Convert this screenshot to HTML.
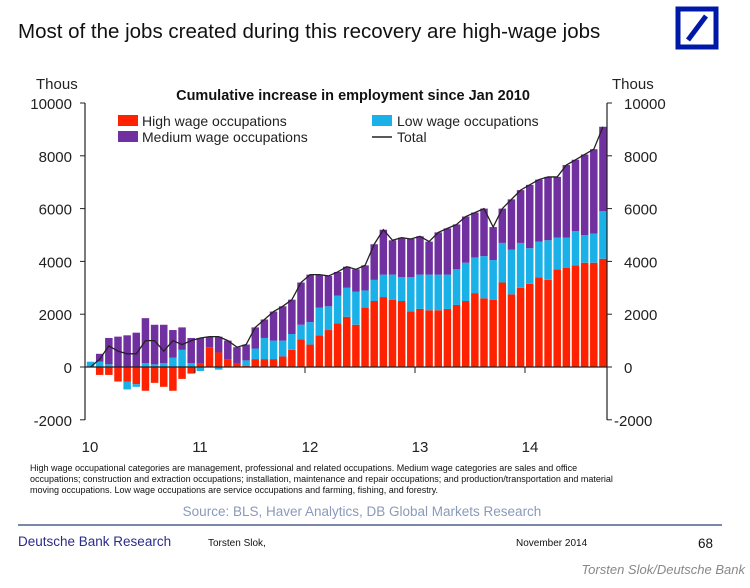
<!DOCTYPE html>
<html><head><meta charset="utf-8"><style>
body{margin:0;background:#fff;width:750px;height:583px;overflow:hidden;font-family:"Liberation Sans",sans-serif;}
</style></head><body>
<svg id="s" width="750" height="583" xmlns="http://www.w3.org/2000/svg" font-family="Liberation Sans, sans-serif">
<text x="18" y="38" font-size="20.5" fill="#111">Most of the jobs created during this recovery are high-wage jobs</text>
<rect x="678" y="9" width="38" height="38" fill="none" stroke="#0018a8" stroke-width="5"/>
<line x1="688" y1="40" x2="706" y2="16" stroke="#0018a8" stroke-width="5"/>
<text x="353" y="100" font-size="14.5" font-weight="bold" text-anchor="middle" fill="#111">Cumulative increase in employment since Jan 2010</text>
<text x="36" y="89" font-size="15" fill="#222">Thous</text>
<text x="612" y="89" font-size="15" fill="#222">Thous</text>
<rect x="118" y="115" width="20" height="11" fill="#ff2200"/><text x="142" y="126" font-size="14" fill="#222">High wage occupations</text>
<rect x="118" y="131" width="20" height="11" fill="#7030a0"/><text x="142" y="142" font-size="14" fill="#222">Medium wage occupations</text>
<rect x="372" y="115" width="20" height="11" fill="#1ab0e8"/><text x="397" y="126" font-size="14" fill="#222">Low wage occupations</text>
<line x1="372" y1="137" x2="392" y2="137" stroke="#222" stroke-width="1.5"/><text x="397" y="142" font-size="14" fill="#222">Total</text>
<g id="g"></g>
<g font-size="9" fill="#111">
<text x="30" y="471">High wage occupational categories are management, professional and related occupations. Medium wage categories are sales and office</text>
<text x="30" y="482">occupations; construction and extraction occupations; installation, maintenance and repair occupations; and production/transportation and material</text>
<text x="30" y="493">moving occupations. Low wage occupations are service occupations and farming, fishing, and forestry.</text>
</g>
<text x="362" y="516" font-size="13.5" text-anchor="middle" fill="#8a9ab8">Source: BLS, Haver Analytics, DB Global Markets Research</text>
<line x1="18" y1="525" x2="722" y2="525" stroke="#7a88a8" stroke-width="2"/>
<text x="18" y="546" font-size="13.5" fill="#2b2b8c">Deutsche Bank Research</text>
<text x="208" y="546" font-size="10" fill="#111">Torsten Slok,</text>
<text x="516" y="546" font-size="10" fill="#111">November 2014</text>
<text x="698" y="548" font-size="13.5" fill="#111">68</text>
<text x="745" y="574" font-size="13" font-style="italic" text-anchor="end" fill="#888">Torsten Slok/Deutsche Bank</text>
</svg>
<script>
var T=[0.1,0.5,1.1,1.15,1.2,1.3,1.85,1.6,1.6,1.4,1.5,1.1,1.1,1.15,1.15,1.0,0.75,0.85,1.5,1.8,2.1,2.3,2.55,3.2,3.5,3.5,3.45,3.6,3.8,3.7,3.85,4.65,5.2,4.8,4.9,4.85,4.95,4.75,5.1,5.25,5.4,5.7,5.85,6.0,5.3,6.0,6.35,6.7,6.9,7.1,7.2,7.2,7.65,7.85,8.05,8.25,9.1];
var H=[0,-0.3,-0.3,-0.55,-0.55,-0.65,-0.9,-0.6,-0.75,-0.9,-0.45,-0.25,0.15,0.75,0.55,0.3,0.15,0.05,0.3,0.3,0.3,0.4,0.65,1.05,0.85,1.2,1.4,1.65,1.9,1.6,2.25,2.5,2.65,2.55,2.5,2.1,2.2,2.15,2.15,2.2,2.35,2.5,2.8,2.6,2.55,3.2,2.75,3.0,3.15,3.4,3.3,3.7,3.75,3.85,3.95,3.95,4.1];
var L=[0.2,0.2,0.1,0,-0.3,-0.1,0.15,0.1,0.15,0.35,0.65,0.15,-0.15,0,-0.1,0.05,0.05,0.25,0.7,1.1,1.0,1.0,1.25,1.6,1.7,2.25,2.3,2.7,3.0,2.85,2.9,3.3,3.5,3.5,3.4,3.4,3.5,3.5,3.5,3.5,3.7,3.95,4.15,4.2,4.05,4.7,4.45,4.7,4.5,4.75,4.8,4.9,4.9,5.15,5.0,5.05,5.9];
var LN=[0,0.3,0.8,0.6,0.5,0.5,1.0,1.0,0.6,1.0,0.85,1.0,1.1,1.15,1.15,1.0,0.75,0.85];
function Y(v){return 367-v*26.4;}
var s='',x0=86,w=9.15,bw=7.5;
for(var i=0;i<T.length;i++){
 var x=x0+i*w+0.8,h=H[i],l=L[i],t=T[i];
 var pt=Math.max(h,0),nb=Math.min(h,0);
 if(h>0)s+='<rect x="'+x+'" y="'+Y(h)+'" width="'+bw+'" height="'+h*26.4+'" fill="#ff2200"/>';
 if(h<0)s+='<rect x="'+x+'" y="'+Y(0)+'" width="'+bw+'" height="'+(-h)*26.4+'" fill="#ff2200"/>';
 var lt=pt;
 if(l<0){s+='<rect x="'+x+'" y="'+Y(nb)+'" width="'+bw+'" height="'+(-l)*26.4+'" fill="#1ab0e8"/>';}
 else if(l>pt){s+='<rect x="'+x+'" y="'+Y(l)+'" width="'+bw+'" height="'+(l-pt)*26.4+'" fill="#1ab0e8"/>';lt=l;}
 if(t>lt)s+='<rect x="'+x+'" y="'+Y(t)+'" width="'+bw+'" height="'+(t-lt)*26.4+'" fill="#7030a0"/>';
}
var p='';
for(var i=0;i<T.length;i++){var v=i<LN.length?LN[i]:T[i];p+=(i?'L':'M')+(x0+i*w+w/2)+','+Y(v);}
s+='<path d="'+p+'" fill="none" stroke="#222" stroke-width="1.3"/>';
s+='<line x1="85" y1="367" x2="607" y2="367" stroke="#222" stroke-width="1.2"/>';
s+='<line x1="85" y1="103" x2="85" y2="420" stroke="#222" stroke-width="1.2"/>';
s+='<line x1="607" y1="103" x2="607" y2="420" stroke="#222" stroke-width="1.2"/>';
for(var v=-2;v<=10;v+=2){var y=Y(v);
 s+='<line x1="80" y1="'+y+'" x2="85" y2="'+y+'" stroke="#222"/><line x1="607" y1="'+y+'" x2="612" y2="'+y+'" stroke="#222"/>';
 var lab=v==0?'0':(v*1000).toString();
 s+='<text x="72" y="'+(y+6)+'" font-size="15" text-anchor="end" fill="#222">'+lab+'</text>';
 s+='<text x="'+(v<0?614:624)+'" y="'+(y+6)+'" font-size="15" fill="#222">'+lab+'</text>';}
var yrs=['10','11','12','13','14'];
for(var k=0;k<5;k++){var x=85+k*110;
 if(k>0)s+='<line x1="'+x+'" y1="367" x2="'+x+'" y2="373" stroke="#222"/>';
 s+='<text x="'+(x+5)+'" y="452" font-size="15" text-anchor="middle" fill="#222">'+yrs[k]+'</text>';}
document.getElementById('g').innerHTML=s;
</script>
</body></html>
